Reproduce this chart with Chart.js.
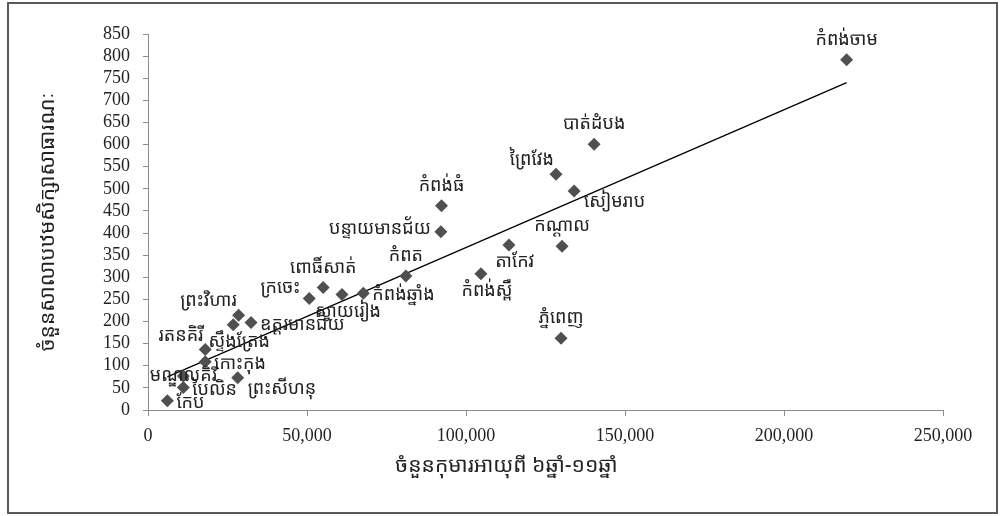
<!DOCTYPE html>
<html>
<head>
<meta charset="utf-8">
<script src="https://cdn.jsdelivr.net/npm/chart.js@4.4.1/dist/chart.umd.min.js"></script>
<style>
    html, body { margin: 0; padding: 0; background: #fff; }
    #frame { position: absolute; left: 7px; top: 2px; width: 987px; height: 508px; border: 2px solid #5a5a5a; }
    #wrap { position: absolute; left: 0; top: 0; width: 1007px; height: 516px; }
</style>
</head>
<body>
<div id="frame"></div>
<div id="wrap"><canvas id="chart" width="1007" height="516"></canvas></div>
<script>
    var provinces = [
        'កំពង់ចាម', 'បាត់ដំបង', 'ព្រៃវែង', 'សៀមរាប', 'កំពង់ធំ', 'បន្ទាយមានជ័យ',
        'កណ្ដាល', 'តាកែវ', 'កំពត', 'កំពង់ស្ពឺ', 'ពោធិ៍សាត់', 'ក្រចេះ',
        'កំពង់ឆ្នាំង', 'ស្វាយរៀង', 'ព្រះវិហារ', 'ឧត្ដរមានជ័យ', 'ស្ទឹងត្រែង', 'រតនគិរី',
        'កោះកុង', 'មណ្ឌលគិរី', 'បៃលិន', 'ព្រះសីហនុ', 'កែប', 'ភ្នំពេញ'
    ];
    // children aged 6-11
    var children = [
        219700, 140300, 128300, 134000, 92300, 92100,
        130200, 113500, 81100, 104700, 55100, 50700,
        67700, 61000, 28500, 32400, 26800, 18000,
        18000, 11100, 11100, 28200, 6100, 129900
    ];
    // public primary schools
    var schools = [
        792, 601, 533, 495, 462, 403,
        370, 373, 303, 308, 277, 252,
        264, 261, 214, 198, 193, 137,
        109, 77, 51, 73, 21, 162
    ];
    var trendX = [6100, 219700];
    var trendY = [75, 740];

    var xTicks = [0, 50000, 100000, 150000, 200000, 250000];
    var yTicks = [0, 50, 100, 150, 200, 250, 300, 350, 400, 450, 500, 550, 600, 650, 700, 750, 800, 850];

    var xTitle = 'ចំនួនកុមារអាយុពី ៦ឆ្នាំ-១១ឆ្នាំ';
    var yTitle = 'ចំនួនសាលាបឋមសិក្សាសាធារណៈ';

    // where each label sits relative to its point
    var labelSide = [
        'top', 'top', 'tl', 'br', 'top', 'left',
        'top', 'bottom', 'top', 'bottom', 'top', 'lt',
        'right', 'bottom', 'tl', 'right', 'bottom', 'tl',
        'right', 'center', 'right', 'br', 'right', 'top'
    ];

    var khmer = '"Noto Sans Khmer", "Khmer OS", "Liberation Serif", serif';
    var numFont = '"Liberation Serif", "Times New Roman", serif';

    var pointLabels = {
        id: 'pointLabels',
        afterDatasetsDraw: function (chart) {
            var ctx = chart.ctx;
            var meta = chart.getDatasetMeta(0);
            var area = chart.chartArea;
            ctx.save();
            ctx.font = '18px ' + khmer;
            ctx.fillStyle = '#222';
            ctx.textBaseline = 'middle';
            meta.data.forEach(function (pt, i) {
                var side = labelSide[i];
                var x = pt.x, y = pt.y;
                ctx.textAlign = 'center';
                if (side == 'top') { y -= 20; }
                else if (side == 'bottom') { y += 17; x += 6; }
                else if (side == 'left') { ctx.textAlign = 'right'; x -= 10; y -= 3; }
                else if (side == 'lt') { ctx.textAlign = 'right'; x -= 9; y -= 11; }
                else if (side == 'right') { ctx.textAlign = 'left'; x += 9; y += 2; }
                else if (side == 'tl') { ctx.textAlign = 'right'; x -= 2; y -= 14; }
                else if (side == 'br') { ctx.textAlign = 'left'; x += 10; y += 11; }
                ctx.fillText(provinces[i], x, y);
            });
            // x axis title, set a little left of centre as in the source figure
            ctx.font = '21px ' + khmer;
            ctx.textAlign = 'center';
            ctx.fillText(xTitle, (area.left + area.right) / 2 - 39, 466);
            ctx.restore();
        }
    };

    var scatterData = children.map(function (v, i) {
        return {x: v, y: schools[i]};
    });
    var trendData = trendX.map(function (v, i) {
        return {x: v, y: trendY[i]};
    });

    var context = document.getElementById('chart').getContext('2d');
    var chart = new Chart(context, {
        type: 'scatter',
        data: {
            datasets: [
                {
                    data: scatterData,
                    pointStyle: 'rectRot',
                    pointRadius: 6.5,
                    backgroundColor: '#505050',
                    borderColor: '#505050',
                    borderWidth: 0
                },
                {
                    type: 'line',
                    data: trendData,
                    borderColor: '#000',
                    borderWidth: 1.3,
                    pointRadius: 0,
                    fill: false
                }
            ]
        },
        options: {
            responsive: false,
            animation: false,
            events: [],
            layout: {
                padding: {left: 10, right: 64, top: 34, bottom: 0}
            },
            plugins: {
                legend: {display: false},
                tooltip: {enabled: false}
            },
            scales: {
                x: {
                    type: 'linear',
                    min: 0,
                    max: 250000,
                    afterBuildTicks: function (scale) {
                        scale.ticks = xTicks.map(function (v) { return {value: v}; });
                    },
                    afterFit: function (scale) { scale.height = 106; },
                    ticks: {
                        color: '#222',
                        padding: 9,
                        autoSkip: false,
                        maxRotation: 0,
                        font: {family: numFont, size: 18},
                        callback: function (v) { return v.toLocaleString('en-US'); }
                    },
                    grid: {drawOnChartArea: false, drawTicks: true, tickLength: 6, color: '#8c8c8c'},
                    border: {color: '#8c8c8c', width: 1}
                },
                y: {
                    type: 'linear',
                    min: 0,
                    max: 850,
                    afterBuildTicks: function (scale) {
                        scale.ticks = yTicks.map(function (v) { return {value: v}; });
                    },
                    afterFit: function (scale) { scale.width = 138; },
                    ticks: {
                        color: '#222',
                        padding: 13,
                        autoSkip: false,
                        font: {family: numFont, size: 18}
                    },
                    grid: {drawOnChartArea: false, drawTicks: true, tickLength: 5, color: '#8c8c8c'},
                    border: {color: '#8c8c8c', width: 1},
                    title: {
                        display: true,
                        text: yTitle,
                        color: '#222',
                        font: {family: khmer, size: 21},
                        padding: {top: 25, bottom: 0}
                    }
                }
            }
        },
        plugins: [pointLabels]
    });
</script>
</body>
</html>
